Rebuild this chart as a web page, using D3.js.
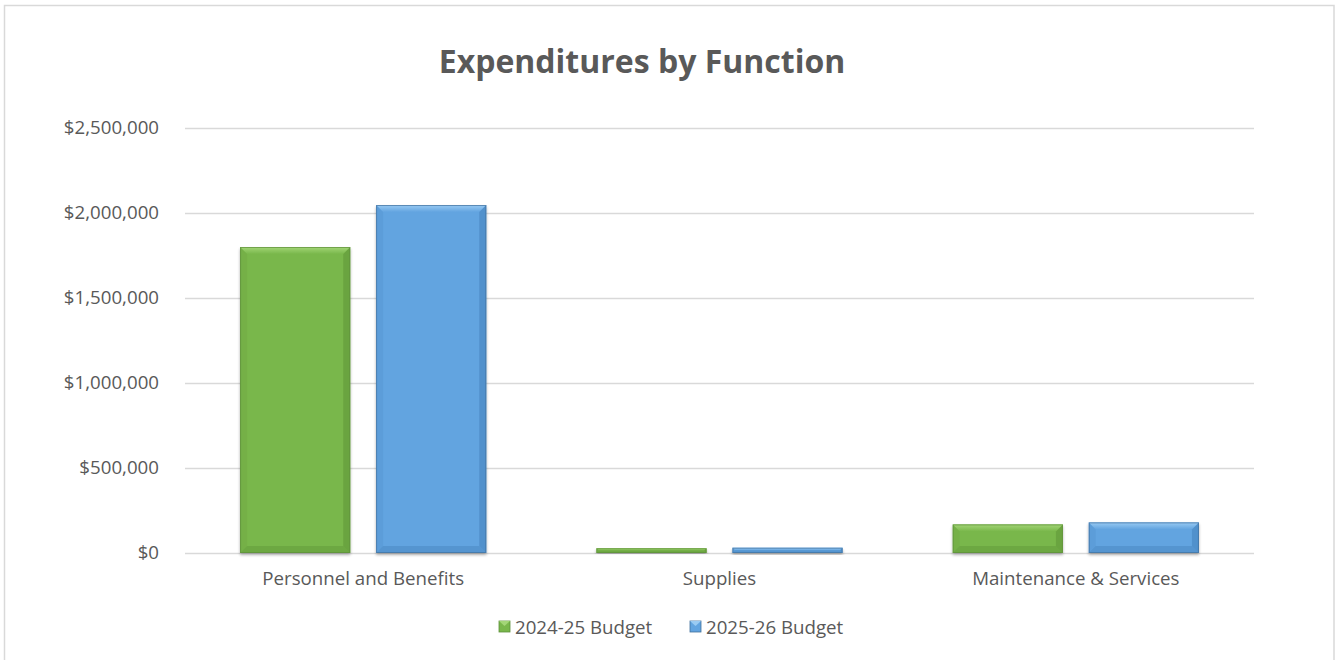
<!DOCTYPE html>
<html>
<head>
<meta charset="utf-8">
<script src="https://cdn.jsdelivr.net/npm/d3@7"></script>
<style>
  html, body { margin: 0; padding: 0; background: #fff; }
  svg { display: block; font-family: "Open Sans", "Noto Sans", sans-serif; }
</style>
</head>
<body>
<svg id="chart" width="1335" height="660"></svg>
<script>
// Expenditures by function, two budget years
const categories = ["Personnel and Benefits", "Supplies", "Maintenance & Services"];
const seriesNames = ["2024-25 Budget", "2025-26 Budget"];
const budget2425 = [1800000, 28000, 168000];
const budget2526 = [2047000, 31000, 180000];
const yTicks = [0, 500000, 1000000, 1500000, 2000000, 2500000];
const seriesValues = [budget2425, budget2526];

const palette = [
  { base: "#79b74b", light: "#a3d677", dark: "#5a8d34", edge: "#5e8f3a" },
  { base: "#62a4e0", light: "#9acbf3", dark: "#3f7ab3", edge: "#41719c" }
];

const svg = d3.select("#chart");
const W = 1335, H = 660;
const plot = { left: 185, right: 1254, top: 128, bottom: 553 };
const labelSize = 18.7;

// outer frame
svg.append("rect")
  .attr("x", 4.5).attr("y", 5.5)
  .attr("width", W - 5.5).attr("height", H + 10)
  .attr("fill", "#fff").attr("stroke", "#d9d9d9").attr("stroke-width", 1.5);

// title
svg.append("text")
  .attr("x", 642).attr("y", 73)
  .attr("text-anchor", "middle")
  .attr("font-size", 32).attr("font-weight", 700)
  .attr("fill", "#595959")
  .text("Expenditures by Function");

const y = d3.scaleLinear().domain([0, 2500000]).range([plot.bottom, plot.top]);
const x0 = d3.scaleBand().domain(categories).range([plot.left, plot.right])
  .paddingInner(0.309).paddingOuter(0.1545);
const x1 = d3.scaleBand().domain(seriesNames).range([0, x0.bandwidth()]).paddingInner(0.19);

// gridlines
svg.append("g")
  .selectAll("line")
  .data(yTicks)
  .join("line")
  .attr("x1", plot.left).attr("x2", plot.right)
  .attr("y1", d => Math.round(y(d)) + 0.5).attr("y2", d => Math.round(y(d)) + 0.5)
  .attr("stroke", "#d9d9d9").attr("stroke-width", 1.5);

// y axis labels
const fmt = d3.format("$,.0f");
const yAxis = d3.axisLeft(y).tickValues(yTicks).tickFormat(fmt).tickSize(0).tickPadding(0);
const gy = svg.append("g").attr("transform", `translate(159,0)`).call(yAxis);
gy.select(".domain").remove();
gy.selectAll("text").attr("font-size", labelSize).attr("fill", "#595959")
  .attr("font-family", "'Open Sans', sans-serif");

// x axis labels
const xAxis = d3.axisBottom(x0).tickSize(0).tickPadding(0);
const gx = svg.append("g").attr("transform", `translate(0,572)`).call(xAxis);
gx.select(".domain").remove();
gx.selectAll("text").attr("font-size", labelSize).attr("fill", "#595959")
  .attr("font-family", "'Open Sans', sans-serif");

// soft shadow beneath bars
const defs = svg.append("defs");
const shadow = defs.append("filter").attr("id", "shadow").attr("x", "-10%").attr("y", "-10%")
  .attr("width", "120%").attr("height", "130%");
shadow.append("feGaussianBlur").attr("in", "SourceAlpha").attr("stdDeviation", 1.5);
shadow.append("feOffset").attr("dx", 0).attr("dy", 2).attr("result", "ob");
shadow.append("feComponentTransfer").append("feFuncA").attr("type", "linear").attr("slope", 0.3);
const merge = shadow.append("feMerge");
merge.append("feMergeNode");
merge.append("feMergeNode").attr("in", "SourceGraphic");

// top-face gradients
palette.forEach((col, i) => {
  const lg = defs.append("linearGradient").attr("id", "topface" + i)
    .attr("x1", 0).attr("y1", 0).attr("x2", 0).attr("y2", 1);
  lg.append("stop").attr("offset", "0%").attr("stop-color", col.light);
  lg.append("stop").attr("offset", "100%").attr("stop-color", col.base);
});

// bevelled bars
const bars = [];
categories.forEach((c, ci) => {
  seriesNames.forEach((s, si) => {
    bars.push({ cat: c, series: s, si, value: seriesValues[si][ci] });
  });
});

const gBars = svg.append("g");
bars.forEach(b => {
  const bx = x0(b.cat) + x1(b.series);
  const bw = x1.bandwidth();
  const top = y(b.value);
  const bh = y(0) - top;
  const col = palette[b.si];
  const e = Math.min(7, bh / 2);
  const g = gBars.append("g").attr("filter", "url(#shadow)");
  g.append("rect").attr("x", bx).attr("y", top).attr("width", bw).attr("height", bh)
    .attr("fill", col.base);
  // top face
  g.append("polygon")
    .attr("points", [[bx, top], [bx + bw, top], [bx + bw - e, top + e], [bx + e, top + e]].join(" "))
    .attr("fill", `url(#topface${b.si})`);
  // left face
  g.append("polygon")
    .attr("points", [[bx, top], [bx + e, top + e], [bx + e, top + bh - e], [bx, top + bh]].join(" "))
    .attr("fill", col.dark).attr("opacity", 0.15);
  // right face
  g.append("polygon")
    .attr("points", [[bx + bw, top], [bx + bw, top + bh], [bx + bw - e, top + bh - e], [bx + bw - e, top + e]].join(" "))
    .attr("fill", col.dark).attr("opacity", 0.45);
  // bottom face
  g.append("polygon")
    .attr("points", [[bx, top + bh], [bx + e, top + bh - e], [bx + bw - e, top + bh - e], [bx + bw, top + bh]].join(" "))
    .attr("fill", col.dark).attr("opacity", 0.35);
  g.append("rect").attr("x", bx + 0.5).attr("y", top + 0.5).attr("width", bw - 1).attr("height", Math.max(0, bh - 1))
    .attr("fill", "none").attr("stroke", col.edge).attr("stroke-width", 1).attr("opacity", 0.7);
});

// legend
const legendItems = [
  { name: seriesNames[0], col: palette[0], x: 499 },
  { name: seriesNames[1], col: palette[1], x: 690 }
];
const gl = svg.append("g");
legendItems.forEach(it => {
  gl.append("rect").attr("x", it.x).attr("y", 621).attr("width", 11).attr("height", 11)
    .attr("fill", it.col.base).attr("stroke", it.col.edge).attr("stroke-width", 0.8);
  gl.append("polygon")
    .attr("points", [[it.x, 621], [it.x + 11, 621], [it.x + 5.5, 626]].join(" "))
    .attr("fill", it.col.light);
  gl.append("text").attr("x", it.x + 16).attr("y", 633.5)
    .attr("font-size", labelSize).attr("fill", "#595959")
    .text(it.name);
});
</script>
</body>
</html>
